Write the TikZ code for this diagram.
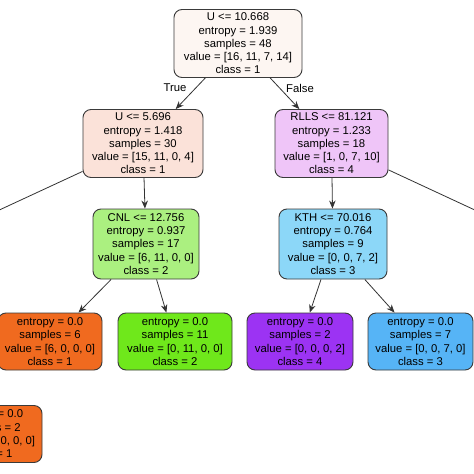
\documentclass[tikz,border=0pt]{standalone}
\usepackage{fontspec}
\setmainfont{Liberation Sans}
\usetikzlibrary{arrows.meta}
\definecolor{bordercol}{HTML}{3A3A3A}
\definecolor{edgecol}{HTML}{333333}
\definecolor{crootfill}{HTML}{FDF6F2}
\definecolor{cleftfill}{HTML}{FBE2D9}
\definecolor{crightfill}{HTML}{EFC5F8}
\definecolor{ccnlfill}{HTML}{ABF080}
\definecolor{ckthfill}{HTML}{8CD7F8}
\definecolor{corange}{HTML}{F06A1F}
\definecolor{cgreen}{HTML}{6FE81B}
\definecolor{cpurple}{HTML}{9C33F3}
\definecolor{cblue}{HTML}{56B4F6}
\newcommand{\treefont}{\fontsize{11.3}{13.3}\selectfont}
\begin{document}
\begin{tikzpicture}[x=1pt,y=-1pt,
  box/.style={draw=bordercol, line width=0.9pt, rounded corners=8pt, align=center,
    font=\treefont, inner sep=2pt, text=black},
  inner5/.style={box, minimum height=68pt},
  leaf/.style={box, minimum height=57pt},
  edge/.style={draw=edgecol, line width=0.8pt, -{Stealth[length=8pt,width=6.5pt]}},
  plainedge/.style={draw=edgecol, line width=0.8pt},
  lbl/.style={font=\treefont, text=black}]
\useasboundingbox (0,0) rectangle (474,474);
\fill[white] (0,0) rectangle (474,474);

\node[inner5, fill=crootfill, minimum width=128pt] (root) at (238,43.5)
  {U <= 10.668\\entropy = 1.939\\samples = 48\\value = [16, 11, 7, 14]\\class = 1};
\node[inner5, fill=cleftfill, minimum width=120pt] (n2) at (143,143.5)
  {U <= 5.696\\entropy = 1.418\\samples = 30\\value = [15, 11, 0, 4]\\class = 1};
\node[inner5, fill=crightfill, minimum width=113pt] (n3) at (331.5,143.5)
  {RLLS <= 81.121\\entropy = 1.233\\samples = 18\\value = [1, 0, 7, 10]\\class = 4};
\node[inner5, fill=ccnlfill, minimum width=106pt, minimum height=70pt] (cnl) at (146,244)
  {CNL <= 12.756\\entropy = 0.937\\samples = 17\\value = [6, 11, 0, 0]\\class = 2};
\node[inner5, fill=ckthfill, minimum width=108pt, minimum height=70pt] (kth) at (333,244)
  {KTH <= 70.016\\entropy = 0.764\\samples = 9\\value = [0, 0, 7, 2]\\class = 3};

\node[leaf, fill=corange, minimum width=104pt] (l1) at (50,341.5)
  {entropy = 0.0\\samples = 6\\value = [6, 0, 0, 0]\\class = 1};
\node[leaf, fill=cgreen, minimum width=114pt] (l2) at (175,341.5)
  {entropy = 0.0\\samples = 11\\value = [0, 11, 0, 0]\\class = 2};
\node[leaf, fill=cpurple, minimum width=106pt] (l3) at (300,341.5)
  {entropy = 0.0\\samples = 2\\value = [0, 0, 0, 2]\\class = 4};
\node[leaf, fill=cblue, minimum width=105pt] (l4) at (420.5,341.5)
  {entropy = 0.0\\samples = 7\\value = [0, 0, 7, 0]\\class = 3};
\node[leaf, fill=corange, minimum width=104pt] (l5) at (-10,434)
  {entropy = 0.0\\samples = 2\\value = [2, 0, 0, 0]\\class = 1};

\coordinate (offL) at (-60,237.5);
\coordinate (offR) at (520,231);

\draw[edge] (root) -- (n2);
\draw[edge] (root) -- (n3);
\draw[edge] (n2) -- (cnl);
\draw[edge] (n3) -- (kth);
\draw[edge] (cnl) -- (l1);
\draw[edge] (cnl) -- (l2);
\draw[edge] (kth) -- (l3);
\draw[edge] (kth) -- (l4);
\draw[plainedge] (n2) -- (offL);
\draw[plainedge] (n3) -- (offR);

\node[lbl] (ltrue) at (175,88) {True};
\node[lbl] (lfalse) at (300,88) {False};
\end{tikzpicture}
\end{document}
